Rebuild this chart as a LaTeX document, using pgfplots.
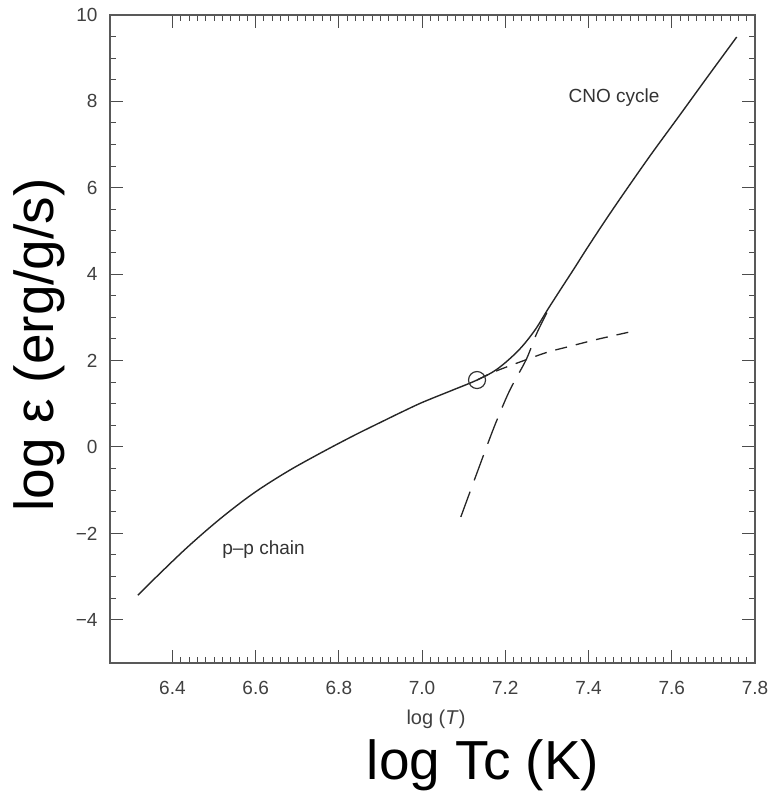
\documentclass[border=0pt]{standalone}
\usepackage{pgfplots}
\pgfplotsset{compat=1.18}
\usepackage{fontspec}
\setmainfont{Liberation Sans}
\begin{document}
\begin{tikzpicture}[x=1pt,y=1pt]
\useasboundingbox (0,0) rectangle (778,794);
\begin{axis}[
  at={(110pt,131pt)}, anchor=south west,
  scale only axis, width=645pt, height=648pt,
  xmin=6.25, xmax=7.8, ymin=-5, ymax=10,
  xtick={6.4,6.6,6.8,7.0,7.2,7.4,7.6,7.8},
  xticklabels={6.4,6.6,6.8,7.0,7.2,7.4,7.6,7.8},
  ytick={-4,-2,0,2,4,6,8,10},
  yticklabels={−4,−2,0,2,4,6,8,10},
  minor x tick num=9, minor y tick num=3,
  tick label style={font=\fontsize{19}{22}\selectfont, text=black!75},
  xticklabel shift=15pt, yticklabel shift=9pt,
  tick align=inside,
  major tick length=13pt, minor tick length=6pt,
  every tick/.style={black!70, line width=1pt},
  axis line style={black!65, line width=1.3pt},
  clip=false,
]
\addplot[black!85, line width=1.4pt, smooth, tension=0.55] coordinates {
(6.317,-3.43) (6.36,-3.02) (6.436,-2.32) (6.515,-1.66) (6.595,-1.07)
(6.676,-0.57) (6.756,-0.14) (6.837,0.27) (6.917,0.65) (6.949,0.80)
(7.0,1.03) (7.069,1.30) (7.132,1.55) (7.18,1.80) (7.231,2.23)
(7.27,2.69) (7.303,3.20) (7.335,3.68) (7.366,4.14) (7.395,4.58)
(7.44,5.24) (7.486,5.89) (7.55,6.77) (7.616,7.64) (7.686,8.57) (7.756,9.49)
};
\addplot[black!85, line width=1.3pt, smooth, tension=0.5, dash pattern=on 12pt off 9pt] coordinates {
(7.132,1.55) (7.173,1.74) (7.25,2.02) (7.303,2.20) (7.351,2.32) (7.42,2.49) (7.498,2.66)
};
\addplot[black!85, line width=1.3pt, smooth, tension=0.5, dash pattern=on 27pt off 12pt] coordinates {
(7.093,-1.62) (7.133,-0.57) (7.173,0.46) (7.21,1.30) (7.25,2.02) (7.275,2.62) (7.303,3.17)
};
\addplot[only marks, mark=o, mark size=8.5pt, mark options={black!80, line width=1.2pt}] coordinates {(7.132,1.55)};
\end{axis}
\node[text=black!80, font=\fontsize{19}{22}\selectfont] at (614,696) {CNO cycle};
\node[text=black!80, font=\fontsize{19}{22}\selectfont] at (263.5,244) {p–p chain};
\node[text=black!75, font=\fontsize{20}{22}\selectfont, anchor=base] at (436,69) {log (\textit{T})};
\node[font=\fontsize{55}{60}\selectfont, anchor=base] at (483,14) {log Tc (K)};
\node[font=\fontsize{55}{60}\selectfont, rotate=90, anchor=base] at (53,449) {log ε (erg/g/s)};
\end{tikzpicture}
\end{document}
